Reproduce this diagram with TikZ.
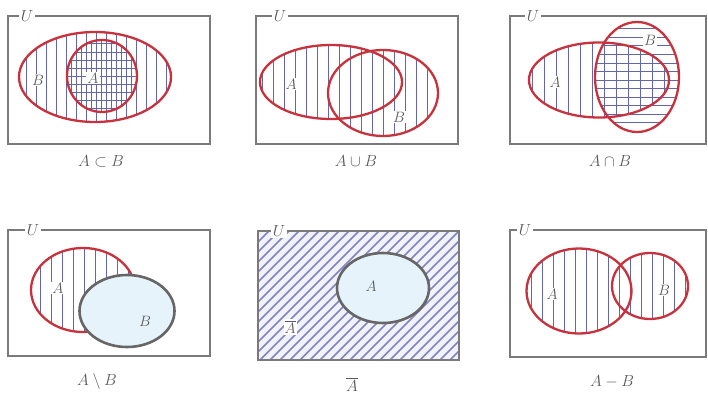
\documentclass[tikz,border=0pt]{standalone}
\usepackage{amssymb}
\usepackage{fix-cm}
\begin{document}
\begin{tikzpicture}[x=1pt,y=-1pt,
  univ/.style={draw=borderc,line width=1.5pt},
  setred/.style={draw=redc,line width=2.3pt},
  setgray/.style={draw=grayc,line width=2.6pt,fill=lightb},
  hatch/.style={draw=hatchc,line width=1pt},
  dhatch/.style={draw=dhatchc,line width=1.6pt},
  lab/.style={text=textc,fill=white,inner sep=1pt,font=\fontsize{15}{17}\selectfont},
  plainlab/.style={text=textc,inner sep=1pt,font=\fontsize{15}{17}\selectfont},
  ulab/.style={text=textc,fill=white,inner sep=1.5pt,font=\fontsize{16}{18}\selectfont},
  captxt/.style={text=textc,font=\fontsize{16}{18}\selectfont}]
\definecolor{redc}{HTML}{C8323C}
\definecolor{hatchc}{HTML}{6266AA}
\definecolor{dhatchc}{HTML}{8084C0}
\definecolor{borderc}{HTML}{7A7A7A}
\definecolor{grayc}{HTML}{666666}
\definecolor{textc}{HTML}{5A5A5A}
\definecolor{lightb}{HTML}{E6F3FB}
\definecolor{lavb}{HTML}{F2F2FA}
\useasboundingbox (0,0) rectangle (708,396);
\fill[white] (0,0) rectangle (708,396);

% ---------- Panel 1: A subset B
\draw[univ] (8,16) rectangle (210,144);
\node[ulab] (U1) at (27,16) {$U$};
\begin{scope}
  \clip (95,77) ellipse (76pt and 45pt);
  \foreach \x in {16,26,...,176} \draw[hatch] (\x,25)--(\x,130);
\end{scope}
\begin{scope}
  \clip (102,76) ellipse (35pt and 36pt);
  \foreach \y in {36,44,...,116} \draw[hatch] (60,\y)--(145,\y);
  \foreach \x in {71,81,...,141} \draw[hatch] (\x,35)--(\x,120);
\end{scope}
\draw[setred] (95,77) ellipse (76pt and 45pt);
\draw[setred] (102,76) ellipse (35pt and 36pt);
\node[lab] (B1) at (38,80) {$B$};
\node[lab] (A1) at (93,78) {$A$};
\node[captxt] (C1) at (101,161) {$A\subset B$};

% ---------- Panel 2: A cup B
\draw[univ] (256,16) rectangle (458,144);
\node[ulab] (U2) at (280,16) {$U$};
\begin{scope}
  \clip (331,82) ellipse (71pt and 37pt);
  \foreach \x in {262,273,...,440} \draw[hatch] (\x,30)--(\x,140);
\end{scope}
\begin{scope}
  \clip (383,93) ellipse (55pt and 43pt);
  \foreach \x in {262,273,...,440} \draw[hatch] (\x,30)--(\x,140);
\end{scope}
\draw[setred] (331,82) ellipse (71pt and 37pt);
\draw[setred] (383,93) ellipse (55pt and 43pt);
\node[lab] (A2) at (291,84) {$A$};
\node[lab] (B2) at (399,117) {$B$};
\node[captxt] (C2) at (356,161) {$A\cup B$};

% ---------- Panel 3: A cap B
\draw[univ] (510,16) rectangle (706,144);
\node[ulab] (U3) at (533,16) {$U$};
\begin{scope}
  \clip (599,80) ellipse (70pt and 37.5pt);
  \foreach \x in {532,544,...,680} \draw[hatch] (\x,35)--(\x,125);
\end{scope}
\begin{scope}
  \clip (637,77) ellipse (42pt and 55pt);
  \foreach \y in {29,37.5,...,135} \draw[hatch] (590,\y)--(685,\y);
\end{scope}
\draw[setred] (599,80) ellipse (70pt and 37.5pt);
\draw[setred] (637,77) ellipse (42pt and 55pt);
\node[lab] (A3) at (555,82) {$A$};
\node[lab] (B3) at (650,40) {$B$};
\node[captxt] (C3) at (610,161) {$A\cap B$};

% ---------- Panel 4: A \ B
\draw[univ] (8,230) rectangle (210,356);
\node[ulab] (U4) at (33,230) {$U$};
\begin{scope}
  \clip (83,290) ellipse (52pt and 42pt);
  \foreach \x in {40,51,...,140} \draw[hatch] (\x,240)--(\x,340);
\end{scope}
\draw[setred] (83,290) ellipse (52pt and 42pt);
\draw[setgray] (127,311) ellipse (47.5pt and 36pt);
\node[lab] (A4) at (58,288) {$A$};
\node[plainlab] (B4) at (145,321) {$B$};
\node[captxt] (C4) at (97,381) {$A\setminus B$};

% ---------- Panel 5: complement
\fill[lavb] (258,231) rectangle (459,360);
\begin{scope}
  \clip (258,231) rectangle (459,360);
  \foreach \x in {120,130,...,460} \draw[dhatch] (\x,360)--(\x+140,220);
\end{scope}
\draw[univ] (258,231) rectangle (459,360);
\node[ulab] (U5) at (279,231) {$U$};
\draw[setgray] (383,288) ellipse (46pt and 35pt);
\node[plainlab] (A5) at (371,286) {$A$};
\node[lab] (Ab5) at (290,327) {$\overline{A}$};
\node[captxt] (C5) at (352,384) {$\overline{A}$};

% ---------- Panel 6: A - B
\draw[univ] (510,230) rectangle (706,357);
\node[ulab] (U6) at (525,230) {$U$};
\begin{scope}
  \clip (579,291) ellipse (52.5pt and 42.5pt);
  \foreach \x in {520,531,...,700} \draw[hatch] (\x,240)--(\x,345);
\end{scope}
\begin{scope}
  \clip (650,286) ellipse (38pt and 33pt);
  \foreach \x in {520,531,...,700} \draw[hatch] (\x,240)--(\x,345);
\end{scope}
\draw[setred] (579,291) ellipse (52.5pt and 42.5pt);
\draw[setred] (650,286) ellipse (38pt and 33pt);
\node[lab] (A6) at (552,294) {$A$};
\node[lab] (B6) at (664,290) {$B$};
\node[captxt] (C6) at (612,382) {$A-B$};
\end{tikzpicture}
\end{document}
